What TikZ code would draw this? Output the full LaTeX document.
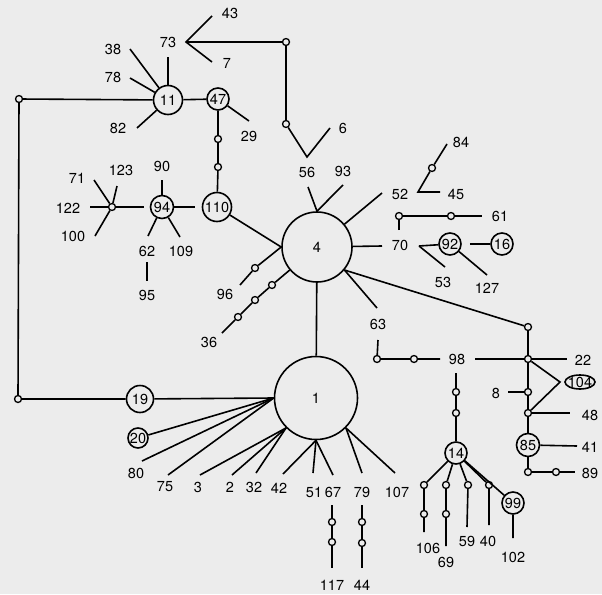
\documentclass[tikz,border=0pt]{standalone}
\usepackage{fontspec}
\setmainfont{TeX Gyre Heros}
\usetikzlibrary{shapes.geometric}
\definecolor{paper}{gray}{0.925}
\tikzset{
  num/.style={inner sep=0pt,font=\fontsize{14.5}{15}\selectfont},
  ring/.style={circle,draw,inner sep=0pt,font=\fontsize{14.5}{15}\selectfont},
  hole/.style={circle,draw,fill=paper,line width=1.3pt,inner sep=0pt,minimum size=7pt},
}

\begin{document}
\begin{tikzpicture}[x=1pt,y=-1pt,line width=1.6pt]
\fill[paper] (0,0) rectangle (602,594);
\node[ring,minimum size=70pt] (n4) at (317,247) {4};
\node[ring,minimum size=83pt] (n1) at (316,398) {1};
\node[ring,minimum size=29pt] (n11) at (168,100) {11};
\node[ring,minimum size=22pt] (n47) at (218,99) {47};
\node[ring,minimum size=29pt] (n110) at (217,207) {110};
\node[ring,minimum size=23pt] (n94) at (162,207) {94};
\node[ring,minimum size=27pt] (n19) at (140,399) {19};
\node[ring,minimum size=20pt] (n20) at (138,438) {20};
\node[ring,minimum size=22pt] (n92) at (450,244) {92};
\node[ring,minimum size=22pt] (n16) at (502,244) {16};
\node[ring,minimum size=22pt] (n14) at (456,453) {14};
\node[ring,minimum size=22pt] (n99) at (513,503) {99};
\node[ring,minimum size=23pt] (n85) at (528,445) {85};
\node[num] (n104) at (580,382) {104};
\draw (n104) ellipse (15pt and 7pt);
\foreach \t/\x/\y in {43/230/13,7/227/63,73/168/42,38/113/49,78/113/77,82/118/128,
  29/249/136,6/343/128,56/307/172,93/343/171,90/162/166,71/77/178,123/121/170,
  122/68/208,100/73/236,62/147/251,109/181/251,95/147/295,96/225/294,36/209/342,
  52/400/194,84/461/142,45/456/194,61/500/216,70/400/245,53/443/282,127/487/288,
  63/378/324,98/457/359,22/583/360,8/496/393,48/590/415,41/590/447,89/590/473,
  106/428/548,69/446/562,59/467/541,40/488/541,102/513/557,80/136/473,75/165/487,
  3/198/487,2/230/487,32/254/487,42/279/488,51/314/492,67/333/492,79/362/492,
  107/397/492,117/332/585,44/362/585}
  \node[num] (l\t) at (\x,\y) {\t};
\foreach \n/\x/\y in {1/19/99,2/18/399,3/286/42,4/286/124,5/218/139,6/218/167,
  7/112/207,8/255/268,9/238/317,10/255/300,11/272/285,12/432/168,13/399/216,
  14/451/216,15/528/327,16/377/359,17/414/359,18/528/359,19/456/392,20/456/413,
  21/528/392,22/528/413,23/528/472,24/556/472,25/424/485,26/424/514,27/446/485,
  28/446/514,29/468/485,30/489/485,31/332/522,32/332/542,33/362/522,34/362/543}
  \node[hole] (h\n) at (\x,\y) {};
\foreach \n/\x/\y in {43/212/16,7/212/62,73/168/57,38/130/49,78/130/78,82/137/128,
  29/249/121,6/330/128,56/308/187,93/343/185,52/382/193,84/447/144,45/440/192,
  70/382/246,70u/399/230,53/445/267,61/482/216,127/487/275,63/377/308,63b/378/340,
  98w/440/359,98e/475/359,98s/456/373,22/567/359,8/508/392,48/570/413,41/577/446,
  89/575/472,106/424/532,69/446/546,59/467/527,40/489/525,102/513/538,90/162/180,
  62/148/236,109/180/237,62b/147/262,95/147/281,71/94/180,123/117/186,122/90/207,
  100/95/236,96/240/285,36/222/333,80/142/461,75/168/475,3/200/475,2/232/475,
  32/256/473,42/283/474,51/313/473,67/333/475,79/362/473,107/395/473,67b/332/505,
  117/332/568,44b/362/505,44/362/568,v73/186/42,v56/307/157,v45/418/192,
  j70/419/246,v104/560/382}
  \coordinate (e\n) at (\x,\y);
\draw (n11) -- (e73);
\draw (n11) -- (e38);
\draw (n11) -- (e78);
\draw (n11) -- (e82);
\draw (e43) -- (ev73) -- (e7);
\draw (ev73) -- (h3) -- (h4) -- (ev56) -- (e6);
\draw (n11) -- (n47) -- (e29);
\draw (n47) -- (h5) -- (h6) -- (n110);
\draw (n11) -- (h1) -- (h2) -- (n19) -- (n1.west);
\draw (e56) -- (n4.north) -- (e93);
\draw (n4) -- (e52);
\draw (e84) -- (h12) -- (ev45) -- (e45);
\draw (n4) -- (e70);
\draw (e70u) -- (h13) -- (h14) -- (e61);
\draw (ej70) -- (n92);
\draw (ej70) -- (e53);
\draw[shorten <=8pt] (n92) -- (n16);
\draw (n92) -- (e127);
\draw (n4.-40) -- (e63);
\draw (n4.-40) -- (h15);
\draw (e63b) -- (h16) -- (h17) -- (e98w);
\draw (e98e) -- (h18) -- (e22);
\draw (h15) -- (h18) -- (h21) -- (h22) -- (n85);
\draw (h18) -- (ev104) -- (h22);
\draw (e8) -- (h21);
\draw (h22) -- (e48);
\draw (n85) -- (e41);
\draw (n85) -- (h23) -- (h24) -- (e89);
\draw (e98s) -- (h19) -- (h20) -- (n14);
\draw (n14) -- (h25) -- (h26) -- (e106);
\draw (n14) -- (h27) -- (h28) -- (e69);
\draw (n14) -- (h29) -- (e59);
\draw (n14) -- (h30) -- (e40);
\draw (n14) -- (n99) -- (e102);
\draw (n4) -- (n1);
\draw[shorten >=7pt] (n94) -- (n110);
\draw[shorten >=6pt] (h7) -- (n94);
\draw (e90) -- (n94);
\draw (n94) -- (e62);
\draw (n94) -- (e109);
\draw (e62b) -- (e95);
\draw (h7) -- (e71);
\draw (h7) -- (e123);
\draw (h7) -- (e122);
\draw (h7) -- (e100);
\draw (n110) -- (n4.west);
\draw (e96) -- (h8) -- (n4.west);
\draw (e36) -- (h9) -- (h10) -- (h11) -- (n4);
\draw (n20) -- (n1.west);
\draw (e80) -- (n1.west);
\draw (e75) -- (n1.west);
\draw (e3) -- (n1.225);
\draw (e2) -- (n1.225);
\draw (e32) -- (n1.225);
\draw (e42) -- (n1.south);
\draw (e51) -- (n1.south);
\draw (e67) -- (n1.south);
\draw (e79) -- (n1.-45);
\draw (e107) -- (n1.-45);
\draw (e67b) -- (h31) -- (h32) -- (e117);
\draw (e44b) -- (h33) -- (h34) -- (e44);
\end{tikzpicture}
\end{document}
